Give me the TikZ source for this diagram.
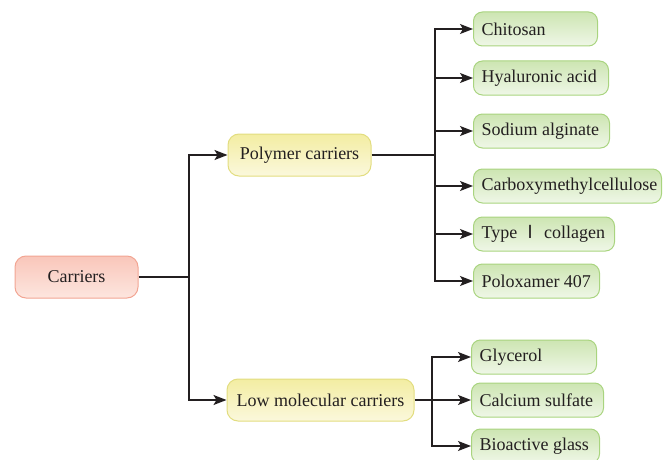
\documentclass[tikz,border=0pt]{standalone}
\usepackage{fontspec}
\setmainfont{Liberation Serif}
\newfontfamily\cjk{Noto Sans CJK SC}
\usetikzlibrary{arrows.meta}
\definecolor{ink}{HTML}{231F20}
\definecolor{pinkB}{HTML}{F2A593}
\definecolor{pinkT}{HTML}{F9C6BA}
\definecolor{pinkL}{HTML}{FDE6DF}
\definecolor{yelB}{HTML}{E2DD80}
\definecolor{yelT}{HTML}{F3EDA2}
\definecolor{yelL}{HTML}{FBF8DC}
\definecolor{grnB}{HTML}{A9D47F}
\definecolor{grnT}{HTML}{CDE5B2}
\definecolor{grnL}{HTML}{EFF7E7}
\newcommand{\lbox}[2]{\makebox[#1][l]{#2}}
\tikzset{
  box/.style={rounded corners=11pt, line width=1pt, minimum height=42pt, inner xsep=8pt,
    font=\fontsize{18}{20}\selectfont, text=ink, anchor=center},
  rootbox/.style={box, draw=pinkB, top color=pinkT, bottom color=pinkL},
  midbox/.style={box, draw=yelB, top color=yelT, bottom color=yelL},
  leaf/.style={rounded corners=9pt, line width=1pt, draw=grnB, top color=grnT, bottom color=grnL,
    minimum height=34pt, inner xsep=8pt, anchor=west,
    font=\fontsize{18}{20}\selectfont, text=ink},
  conn/.style={draw=ink, line width=1.3pt},
  arr/.style={conn, -{Stealth[length=13pt,width=10pt,inset=3pt]}}
}
\begin{document}
\begin{tikzpicture}[x=1pt,y=-1pt]
\useasboundingbox (0,0) rectangle (672,460);
% main nodes
\node[rootbox, minimum width=123pt] (car) at (76.5,277) {Carriers};
\node[midbox, minimum width=143pt] (poly) at (299.5,155) {Polymer carriers};
\node[midbox, minimum width=187pt] (low) at (320.5,400) {Low molecular carriers};
% polymer leaves
\node[leaf] (chi) at (473,29) {\lbox{108pt}{Chitosan}};
\node[leaf] (hya) at (473,78) {\lbox{119pt}{Hyaluronic acid}};
\node[leaf] (sod) at (473,131) {\lbox{120pt}{Sodium alginate}};
\node[leaf] (cmc) at (473,186) {\lbox{172pt}{Carboxymethylcellulose}};
\node[leaf] (col) at (473,234) {\lbox{125pt}{Type {\cjk Ⅰ} collagen}};
\node[leaf] (pol) at (473,281) {\lbox{110pt}{Poloxamer 407}};
% low molecular leaves
\node[leaf] (gly) at (471,357) {\lbox{109pt}{Glycerol}};
\node[leaf] (cal) at (471,400) {\lbox{116pt}{Calcium sulfate}};
\node[leaf] (bio) at (471,446) {\lbox{112pt}{Bioactive glass}};
% junctions
\coordinate (j1) at (189,277);
\coordinate (j2) at (435,155);
\coordinate (j3) at (432,400);
% connectors
\draw[conn] (car.east) -- (j1);
\draw[arr] (j1) |- (poly.west);
\draw[arr] (j1) |- (low.west);
\draw[conn] (poly.east) -- (j2);
\foreach \n in {chi,hya,sod,cmc,col,pol} \draw[arr] (j2) |- (\n.west);
\draw[conn] (low.east) -- (j3);
\foreach \n in {gly,cal,bio} \draw[arr] (j3) |- (\n.west);
\end{tikzpicture}
\end{document}
